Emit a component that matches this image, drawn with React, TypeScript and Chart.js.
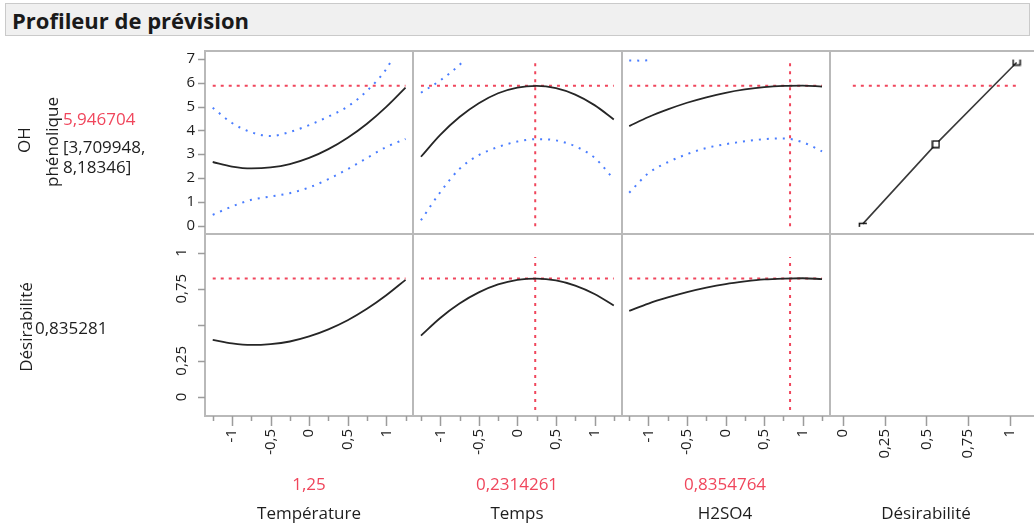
import React, { useEffect, useRef } from 'react';
import { Chart, registerables } from 'chart.js';

Chart.register(...registerables);

// ---------- data ----------
const FACTOR_X = [-1.25, -1, -0.75, -0.5, -0.25, 0, 0.25, 0.5, 0.75, 1, 1.25];

// Température column
const TEMP_OH = [2.67, 2.48, 2.4, 2.44, 2.58, 2.84, 3.21, 3.69, 4.28, 4.99, 5.8];
const TEMP_OH_LOW = [0.45, 0.8, 1.08, 1.22, 1.36, 1.6, 1.95, 2.37, 2.84, 3.3, 3.64];
const TEMP_OH_HIGH_X = [-1.25, -1, -0.75, -0.5, -0.25, 0, 0.25, 0.5, 0.75, 1, 1.07];
const TEMP_OH_HIGH = [4.95, 4.31, 3.92, 3.76, 3.93, 4.22, 4.58, 5.0, 5.66, 6.57, 6.95];
const TEMP_D = [0.396, 0.371, 0.36, 0.366, 0.384, 0.419, 0.468, 0.531, 0.61, 0.704, 0.811];

// Temps column
const TEMPS_OH = [2.89, 3.81, 4.56, 5.14, 5.56, 5.8, 5.87, 5.77, 5.5, 5.06, 4.46];
const TEMPS_OH_LOW = [0.22, 1.4, 2.38, 2.96, 3.3, 3.53, 3.63, 3.58, 3.33, 2.85, 1.95];
const TEMPS_OH_HIGH_X = [-1.25, -1, -0.75, -0.7];
const TEMPS_OH_HIGH = [5.58, 6.1, 6.75, 6.92];
const TEMPS_D = [0.425, 0.547, 0.647, 0.724, 0.779, 0.811, 0.82, 0.807, 0.771, 0.713, 0.633];

// H2SO4 column
const H2SO4_OH = [4.18, 4.56, 4.88, 5.16, 5.39, 5.58, 5.72, 5.82, 5.87, 5.88, 5.84];
const H2SO4_OH_LOW = [1.38, 2.2, 2.66, 3.0, 3.26, 3.42, 3.54, 3.63, 3.66, 3.5, 3.12];
const H2SO4_OH_HIGH_X = [-1.25, -1.1, -0.94];
const H2SO4_OH_HIGH = [6.94, 6.93, 6.97];
const H2SO4_D = [0.596, 0.647, 0.689, 0.726, 0.757, 0.782, 0.8, 0.814, 0.82, 0.822, 0.816];

// Désirabilité function (x = desirability, y = OH phénolique)
const DESIR_FN_D = [0.12, 0.557, 1.04];
const DESIR_FN_OH = [0.07, 3.42, 6.85];

// current settings / reference lines
const REF_OH = 5.87;
const REF_D = 0.82;
const REF_LINE_X = [-1.25, 1.25];
const DESIR_REF_X = [0.06, 1.05];
const TEMPS_SET = 0.2314261;
const H2SO4_SET = 0.8354764;
const VLINE_OH_Y = [-0.03, 6.89];
const VLINE_D_Y = [-0.09, 0.97];

// ticks
const FACTOR_TICKS = [-1.25, -1, -0.75, -0.5, -0.25, 0, 0.25, 0.5, 0.75, 1, 1.25];
const FACTOR_TICK_LABELS = ['', '-1', '', '-0,5', '', '0', '', '0,5', '', '1', ''];
const DESIR_TICKS = [0, 0.25, 0.5, 0.75, 1];
const DESIR_X_LABELS = ['0', '0,25', '0,5', '0,75', '1'];
const DESIR_Y_LABELS = ['0', '0,25', '', '0,75', '1'];
const OH_TICKS = [0, 1, 2, 3, 4, 5, 6, 7];
const OH_TICK_LABELS = ['0', '1', '2', '3', '4', '5', '6', '7'];

// texts
const TITLE = 'Profileur de prévision';
const FACTORS = ['Température', 'Temps', 'H2SO4', 'Désirabilité'];
const FACTOR_SETTINGS = ['1,25', '0,2314261', '0,8354764'];
const RESPONSE_LABEL = ['OH', 'phénolique'];
const RESPONSE_VALUE = '5,946704';
const RESPONSE_CI = ['[3,709948,', '8,18346]'];
const DESIR_LABEL = 'Désirabilité';
const DESIR_VALUE = '0,835281';

// ---------- styles ----------
const FONT = "'Open Sans', 'Noto Sans', sans-serif";
const RED = '#f0465c';
const BLUE = '#4a7dff';
const BLACK = '#262626';
const FRAME = '#b9b9b9';
const TICK = '#9c9c9c';
const TEXT = '#1e1e1e';
const CANVAS_W = 1078;
const PAD_RIGHT = 40;

const pts = (xs: number[], ys: number[]) => xs.map((x, i) => ({ x, y: ys[i] }));

function glyph(w: number, h: number, draw: (g: CanvasRenderingContext2D) => void) {
  const c = document.createElement('canvas');
  c.width = w;
  c.height = h;
  const g = c.getContext('2d')!;
  g.strokeStyle = '#111';
  g.lineWidth = 1.5;
  draw(g);
  return c;
}

const panelFrame = {
  id: 'panelFrame',
  afterDatasetsDraw(chart: any) {
    const { ctx, chartArea } = chart;
    const xs = ['x0', 'x1', 'x2', 'x3'].map((id) => chart.scales[id]);
    const ys = ['yOH', 'yD'].map((id) => chart.scales[id]);
    ctx.save();
    ctx.strokeStyle = FRAME;
    ctx.lineWidth = 2;
    ctx.beginPath();
    const xe: number[] = [];
    xs.forEach((s: any) => {
      [s.left, s.right].forEach((v: number) => {
        const r = Math.round(v);
        if (!xe.includes(r)) xe.push(r);
      });
    });
    xe.forEach((x) => {
      ctx.moveTo(x, chartArea.top);
      ctx.lineTo(x, chartArea.bottom);
    });
    const ye: number[] = [];
    ys.forEach((s: any) => {
      [s.top, s.bottom].forEach((v: number) => {
        const r = Math.round(v);
        if (!ye.includes(r)) ye.push(r);
      });
    });
    ye.forEach((y) => {
      ctx.moveTo(chartArea.left - 1, y);
      ctx.lineTo(chartArea.right, y);
    });
    ctx.stroke();

    // tick marks
    ctx.strokeStyle = TICK;
    ctx.lineWidth = 1.5;
    ctx.beginPath();
    xs.forEach((s: any) => {
      s.ticks.forEach((t: any) => {
        const px = Math.round(s.getPixelForValue(t.value)) + 0.5;
        const len = t.label ? 10 : 5;
        ctx.moveTo(px, s.top);
        ctx.lineTo(px, s.top + len);
      });
    });
    ys.forEach((s: any) => {
      s.ticks.forEach((t: any) => {
        const py = Math.round(s.getPixelForValue(t.value)) + 0.5;
        ctx.moveTo(s.right - 7, py);
        ctx.lineTo(s.right, py);
      });
    });
    ctx.stroke();
    ctx.restore();
  },
};

function xScale(weight: number, min: number, max: number, ticks: number[], labels: string[]) {
  return {
    type: 'linear',
    position: 'bottom',
    stack: 'cols',
    stackWeight: 1,
    weight,
    min,
    max,
    grid: { display: false, drawTicks: false },
    border: { display: false },
    afterBuildTicks: (s: any) => {
      s.ticks = ticks.map((v) => ({ value: v }));
    },
    afterFit: (s: any) => {
      s.height = 113;
    },
    ticks: {
      autoSkip: false,
      minRotation: 90,
      maxRotation: 90,
      padding: 13,
      color: TEXT,
      font: { family: FONT, size: 15 },
      callback: (_v: any, i: number) => labels[i],
    },
  };
}

function ChartPanel() {
  const ref = useRef<HTMLCanvasElement | null>(null);
  useEffect(() => {
    if (!ref.current) return;
    const low = glyph(10, 8, (g) => {
      g.beginPath();
      g.moveTo(1.5, 7);
      g.lineTo(1.5, 3.5);
      g.lineTo(9, 3.5);
      g.stroke();
    });
    const high = glyph(10, 8, (g) => {
      g.beginPath();
      g.moveTo(1.5, 1);
      g.lineTo(1.5, 6.5);
      g.lineTo(8.5, 6.5);
      g.lineTo(8.5, 1);
      g.stroke();
    });
    const mid = glyph(9, 9, (g) => {
      g.fillStyle = '#fff';
      g.fillRect(1, 1, 7, 7);
      g.strokeRect(1.25, 1.25, 6.5, 6.5);
    });

    const curve = (xId: string, yId: string, xs: number[], ys: number[]) => ({
      data: pts(xs, ys),
      xAxisID: xId,
      yAxisID: yId,
      showLine: true,
      borderColor: BLACK,
      borderWidth: 1.8,
      pointRadius: 0,
      cubicInterpolationMode: 'monotone',
    });
    const band = (xId: string, yId: string, xs: number[], ys: number[]) => ({
      data: pts(xs, ys),
      xAxisID: xId,
      yAxisID: yId,
      showLine: true,
      borderColor: BLUE,
      borderWidth: 2,
      borderDash: [2, 6],
      pointRadius: 0,
      cubicInterpolationMode: 'monotone',
    });
    const refLine = (xId: string, yId: string, xs: number[], ys: number[]) => ({
      data: pts(xs, ys),
      xAxisID: xId,
      yAxisID: yId,
      showLine: true,
      borderColor: RED,
      borderWidth: 2,
      borderDash: [3, 5],
      pointRadius: 0,
      tension: 0,
    });

    const datasets: any[] = [
      curve('x0', 'yOH', FACTOR_X, TEMP_OH),
      curve('x1', 'yOH', FACTOR_X, TEMPS_OH),
      curve('x2', 'yOH', FACTOR_X, H2SO4_OH),
      curve('x0', 'yD', FACTOR_X, TEMP_D),
      curve('x1', 'yD', FACTOR_X, TEMPS_D),
      curve('x2', 'yD', FACTOR_X, H2SO4_D),
      {
        data: pts(DESIR_FN_D, DESIR_FN_OH),
        xAxisID: 'x3',
        yAxisID: 'yOH',
        showLine: true,
        borderColor: '#3a3a3a',
        borderWidth: 1.6,
        pointRadius: 4,
        pointStyle: [low, mid, high],
        tension: 0,
      },
      band('x0', 'yOH', FACTOR_X, TEMP_OH_LOW),
      band('x0', 'yOH', TEMP_OH_HIGH_X, TEMP_OH_HIGH),
      band('x1', 'yOH', FACTOR_X, TEMPS_OH_LOW),
      band('x1', 'yOH', TEMPS_OH_HIGH_X, TEMPS_OH_HIGH),
      band('x2', 'yOH', FACTOR_X, H2SO4_OH_LOW),
      band('x2', 'yOH', H2SO4_OH_HIGH_X, H2SO4_OH_HIGH),
      refLine('x0', 'yOH', REF_LINE_X, [REF_OH, REF_OH]),
      refLine('x1', 'yOH', REF_LINE_X, [REF_OH, REF_OH]),
      refLine('x2', 'yOH', REF_LINE_X, [REF_OH, REF_OH]),
      refLine('x3', 'yOH', DESIR_REF_X, [REF_OH, REF_OH]),
      refLine('x0', 'yD', REF_LINE_X, [REF_D, REF_D]),
      refLine('x1', 'yD', REF_LINE_X, [REF_D, REF_D]),
      refLine('x2', 'yD', REF_LINE_X, [REF_D, REF_D]),
      refLine('x1', 'yOH', [TEMPS_SET, TEMPS_SET], VLINE_OH_Y),
      refLine('x2', 'yOH', [H2SO4_SET, H2SO4_SET], VLINE_OH_Y),
      refLine('x1', 'yD', [TEMPS_SET, TEMPS_SET], VLINE_D_Y),
      refLine('x2', 'yD', [H2SO4_SET, H2SO4_SET], VLINE_D_Y),
    ];

    const chart = new Chart(ref.current, {
      type: 'scatter',
      data: { datasets },
      plugins: [panelFrame],
      options: {
        animation: false,
        responsive: false,
        events: [],
        devicePixelRatio: 1,
        layout: { autoPadding: false, padding: { top: 51, right: PAD_RIGHT, left: 0, bottom: 0 } },
        plugins: { legend: { display: false }, tooltip: { enabled: false } },
        scales: {
          x0: xScale(0, -1.35, 1.35, FACTOR_TICKS, FACTOR_TICK_LABELS),
          x1: xScale(1, -1.35, 1.35, FACTOR_TICKS, FACTOR_TICK_LABELS),
          x2: xScale(2, -1.35, 1.35, FACTOR_TICKS, FACTOR_TICK_LABELS),
          x3: xScale(3, -0.078, 1.168, DESIR_TICKS, DESIR_X_LABELS),
          yOH: {
            type: 'linear',
            position: 'left',
            stack: 'rows',
            stackWeight: 1,
            weight: 1,
            min: -0.335,
            max: 7.335,
            grid: { display: false, drawTicks: false },
            border: { display: false },
            afterBuildTicks: (s: any) => {
              s.ticks = OH_TICKS.map((v) => ({ value: v }));
            },
            afterFit: (s: any) => {
              s.width = 205;
            },
            ticks: {
              autoSkip: false,
              padding: 10,
              color: TEXT,
              font: { family: FONT, size: 15 },
              callback: (_v: any, i: number) => OH_TICK_LABELS[i],
            },
          },
          yD: {
            type: 'linear',
            position: 'left',
            stack: 'rows',
            stackWeight: 1,
            weight: 0,
            min: -0.132,
            max: 1.132,
            grid: { display: false, drawTicks: false },
            border: { display: false },
            afterBuildTicks: (s: any) => {
              s.ticks = DESIR_TICKS.map((v) => ({ value: v }));
            },
            afterFit: (s: any) => {
              s.width = 205;
            },
            ticks: {
              autoSkip: false,
              minRotation: 90,
              maxRotation: 90,
              crossAlign: 'center',
              padding: 8,
              color: TEXT,
              font: { family: FONT, size: 15 },
              callback: (_v: any, i: number) => DESIR_Y_LABELS[i],
            },
          },
        },
      } as any,
    });
    return () => chart.destroy();
  }, []);
  return (
    <canvas
      ref={ref}
      width={CANVAS_W}
      height={529}
      style={{ position: 'absolute', left: 0, top: 0, width: CANVAS_W, height: 529 }}
    />
  );
}

const abs = (extra: React.CSSProperties): React.CSSProperties => ({
  position: 'absolute',
  whiteSpace: 'nowrap',
  lineHeight: 1,
  ...extra,
});

export default function App() {
  const colCenters = [309, 517, 725, 926];
  return (
    <div
      style={{
        position: 'fixed',
        left: 0,
        top: 0,
        width: 1034,
        height: 529,
        overflow: 'hidden',
        background: '#fff',
        fontFamily: FONT,
        color: TEXT,
      }}
    >
      <ChartPanel />
      <div
        style={{
          position: 'absolute',
          left: 5,
          top: 3,
          width: 1025,
          height: 33,
          background: '#f0f0f0',
          border: '1px solid #cacaca',
          boxSizing: 'border-box',
        }}
      />
      <div style={abs({ left: 12, top: 20, transform: 'translateY(-50%)', fontSize: 22, fontWeight: 700, color: '#1a1a1a' })}>
        {TITLE}
      </div>

      {/* response row labels */}
      <div style={abs({ left: 23, top: 140, transform: 'translate(-50%,-50%) rotate(-90deg)', fontSize: 17 })}>
        {RESPONSE_LABEL[0]}
      </div>
      <div style={abs({ left: 51, top: 142, transform: 'translate(-50%,-50%) rotate(-90deg)', fontSize: 17 })}>
        {RESPONSE_LABEL[1]}
      </div>
      <div style={abs({ left: 63, top: 118, transform: 'translateY(-50%)', fontSize: 17, color: RED })}>
        {RESPONSE_VALUE}
      </div>
      <div style={abs({ left: 63, top: 146, transform: 'translateY(-50%)', fontSize: 17 })}>{RESPONSE_CI[0]}</div>
      <div style={abs({ left: 63, top: 166, transform: 'translateY(-50%)', fontSize: 17 })}>{RESPONSE_CI[1]}</div>

      <div style={abs({ left: 25, top: 327, transform: 'translate(-50%,-50%) rotate(-90deg)', fontSize: 17 })}>
        {DESIR_LABEL}
      </div>
      <div style={abs({ left: 35, top: 327, transform: 'translateY(-50%)', fontSize: 17 })}>{DESIR_VALUE}</div>

      {/* factor labels */}
      {FACTOR_SETTINGS.map((s, i) => (
        <div key={'s' + i} style={abs({ left: colCenters[i], top: 483, transform: 'translate(-50%,-50%)', fontSize: 17, color: RED })}>
          {s}
        </div>
      ))}
      {FACTORS.map((f, i) => (
        <div key={'f' + i} style={abs({ left: colCenters[i], top: 512, transform: 'translate(-50%,-50%)', fontSize: 17 })}>
          {f}
        </div>
      ))}
    </div>
  );
}
